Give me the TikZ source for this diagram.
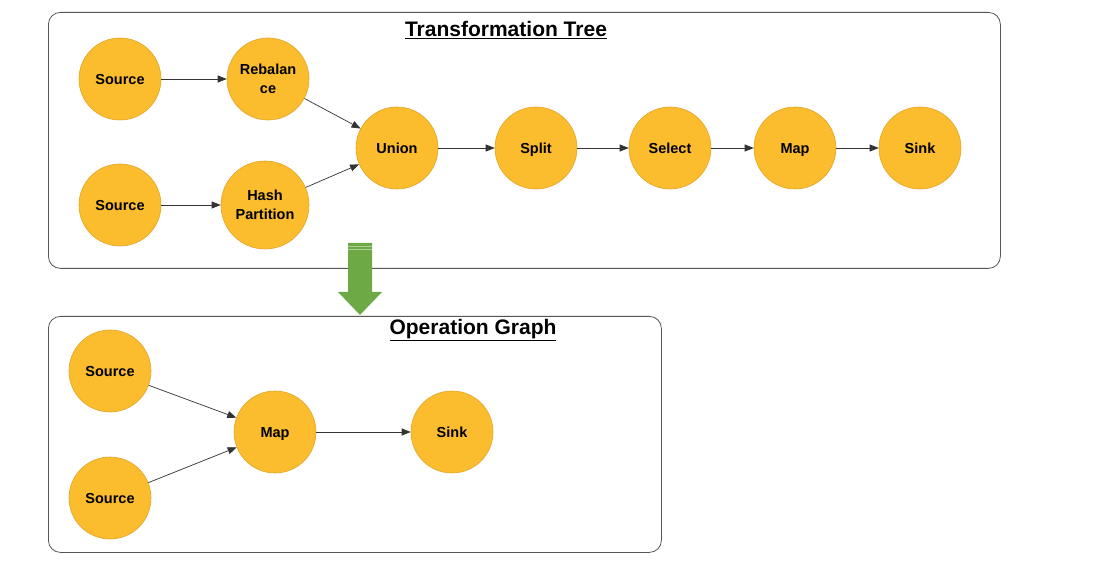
\documentclass[tikz,border=0pt]{standalone}
\usepackage{fontspec}
\setmainfont{Liberation Sans}
\usetikzlibrary{arrows.meta}
\definecolor{nodefill}{HTML}{FBBC2E}
\definecolor{nodeline}{HTML}{E3A528}
\definecolor{arrgreen}{HTML}{6DAA45}
\definecolor{frameline}{HTML}{555555}
\tikzset{
  op/.style={circle, fill=nodefill, draw=nodeline, line width=0.6pt, minimum size=#1, inner sep=0pt, align=center, font=\fontsize{14.5}{19}\selectfont\bfseries},
  op/.default=82pt,
  frame/.style={draw=frameline, line width=0.8pt, rounded corners=12pt},
  conn/.style={-{Triangle[length=9pt,width=7pt]}, draw=black!80, line width=0.7pt},
  title/.style={font=\fontsize{21}{24}\selectfont\bfseries, inner sep=1pt}
}
\newcommand{\lb}[1]{\raisebox{0pt}[10.4pt][0pt]{#1}}
\begin{document}
\begin{tikzpicture}[x=1pt,y=-1pt]
\useasboundingbox (0,0) rectangle (1109,561);
\fill[white] (0,0) rectangle (1109,561);
% frames
\node[frame, minimum width=952pt, minimum height=256pt, anchor=north west, inner sep=0pt] (topframe) at (48,12) {};
\node[frame, minimum width=613pt, minimum height=236pt, anchor=north west, inner sep=0pt] (botframe) at (48,316) {};
\node[title] (t1) at (506,30) {\underline{Transformation Tree}};
\node[title] (t2) at (473,330) {\underline{Operation Graph}};
% top nodes
\node[op] (s1) at (120,79) {\lb{Source}};
\node[op] (reb) at (268,79) {Rebalan\\ce};
\node[op] (s2) at (120,205) {\lb{Source}};
\node[op=88pt] (hash) at (265,205) {Hash\\Partition};
\node[op] (union) at (397,148) {\lb{Union}};
\node[op] (split) at (536,148) {\lb{Split}};
\node[op] (select) at (670,148) {\lb{Select}};
\node[op] (map) at (795,148) {\lb{Map}};
\node[op] (sink) at (920,148) {\lb{Sink}};
\draw[conn] (s1) -- (reb);
\draw[conn] (s2) -- (hash);
\draw[conn] (reb) -- (union);
\draw[conn] (hash) -- (union);
\draw[conn] (union) -- (split);
\draw[conn] (split) -- (select);
\draw[conn] (select) -- (map);
\draw[conn] (map) -- (sink);
% bottom nodes
\node[op] (bs1) at (110,371) {\lb{Source}};
\node[op] (bs2) at (110,498) {\lb{Source}};
\node[op] (bmap) at (275,432) {\lb{Map}};
\node[op] (bsink) at (452,432) {\lb{Sink}};
\draw[conn] (bs1) -- (bmap);
\draw[conn] (bs2) -- (bmap);
\draw[conn] (bmap) -- (bsink);
% big green arrow
\coordinate (gtop) at (360,243);
\coordinate (gtip) at (360,315);
\fill[arrgreen] (348,243) -- (372,243) -- (372,292) -- (382,292) -- (gtip) -- (338,292) -- (348,292) -- cycle;
\draw[arrgreen!55!white, line width=0.8pt] (348,246) -- (372,246);
\draw[arrgreen!55!white, line width=0.8pt] (348,249.5) -- (372,249.5);
\end{tikzpicture}
\end{document}
